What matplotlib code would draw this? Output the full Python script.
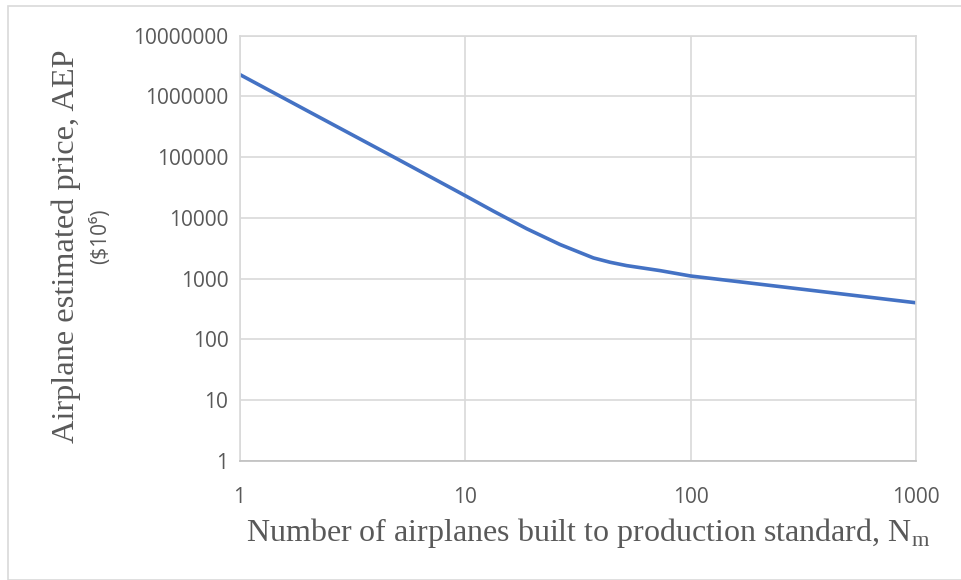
import matplotlib

matplotlib.use("Agg")
import matplotlib.pyplot as plt
from matplotlib.patches import Rectangle
from matplotlib.ticker import FixedLocator, FixedFormatter, NullLocator

plt.rcParams["mathtext.fontset"] = "custom"
plt.rcParams["mathtext.rm"] = "Liberation Serif"

# values (log-log)
n_airplanes = [1, 2, 5, 10, 13.4, 18.8, 26.4, 37.1, 44, 52.1, 73.2, 100, 200, 500, 1000]
price = [2.31e6, 5.8e5, 9.4e4, 2.34e4, 1.29e4, 6640, 3655, 2200, 1866, 1644, 1361,
         1110, 818, 546, 402]

x_ticks = [1, 10, 100, 1000]
y_ticks = [1, 10, 100, 1000, 10000, 100000, 1000000, 10000000]

W, H = 961, 580
fig = plt.figure(figsize=(W / 100, H / 100), dpi=100)
fig.patches.append(Rectangle((8 / W, 0), 1, 1 - 6 / H, transform=fig.transFigure,
                             fill=False, edgecolor="#d9d9d9", linewidth=1.2))

ax = fig.add_axes([239.5 / W, 1 - 461 / H, (916 - 239.5) / W, (461 - 35.7) / H])
ax.plot(n_airplanes, price, color="#4472c4", linewidth=2.6, solid_joinstyle="round")
ax.set_xscale("log")
ax.set_yscale("log")
ax.set_xlim(1, 1000)
ax.set_ylim(1, 1e7)

ax.xaxis.set_major_locator(FixedLocator(x_ticks))
ax.xaxis.set_major_formatter(FixedFormatter([str(v) for v in x_ticks]))
ax.yaxis.set_major_locator(FixedLocator(y_ticks))
ax.yaxis.set_major_formatter(FixedFormatter([str(v) for v in y_ticks]))
ax.xaxis.set_minor_locator(NullLocator())
ax.yaxis.set_minor_locator(NullLocator())

ax.grid(True, color="#d9d9d9", linewidth=1.2)
ax.set_axisbelow(True)
for side in ["left", "right", "top"]:
    ax.spines[side].set_color("#d9d9d9")
    ax.spines[side].set_linewidth(1.2)
ax.spines["bottom"].set_color("#bfbfbf")
ax.spines["bottom"].set_linewidth(1.2)

ax.tick_params(axis="both", length=0, labelsize=15, labelcolor="#595959")
ax.tick_params(axis="x", pad=19)
ax.tick_params(axis="y", pad=8)
for lab in ax.get_xticklabels() + ax.get_yticklabels():
    lab.set_family("Open Sans")

serif = "Liberation Serif"
fig.text(66 / W, 1 - 246 / H, "Airplane estimated price, AEP", rotation=90,
         ha="center", va="center", family=serif, fontsize=23.3, color="#595959")
fig.text(101 / W, 1 - 236 / H, "($10\u2076)", rotation=90,
         ha="center", va="center", family=["Open Sans", "DejaVu Sans"], fontsize=15,
         color="#595959")
fig.text(588 / W, 1 - 533 / H, r"Number of airplanes built to production standard, N$_{\mathregular{m}}$",
         ha="center", va="center", family=serif, fontsize=23, color="#595959")

fig.savefig("out.png", dpi=100)
